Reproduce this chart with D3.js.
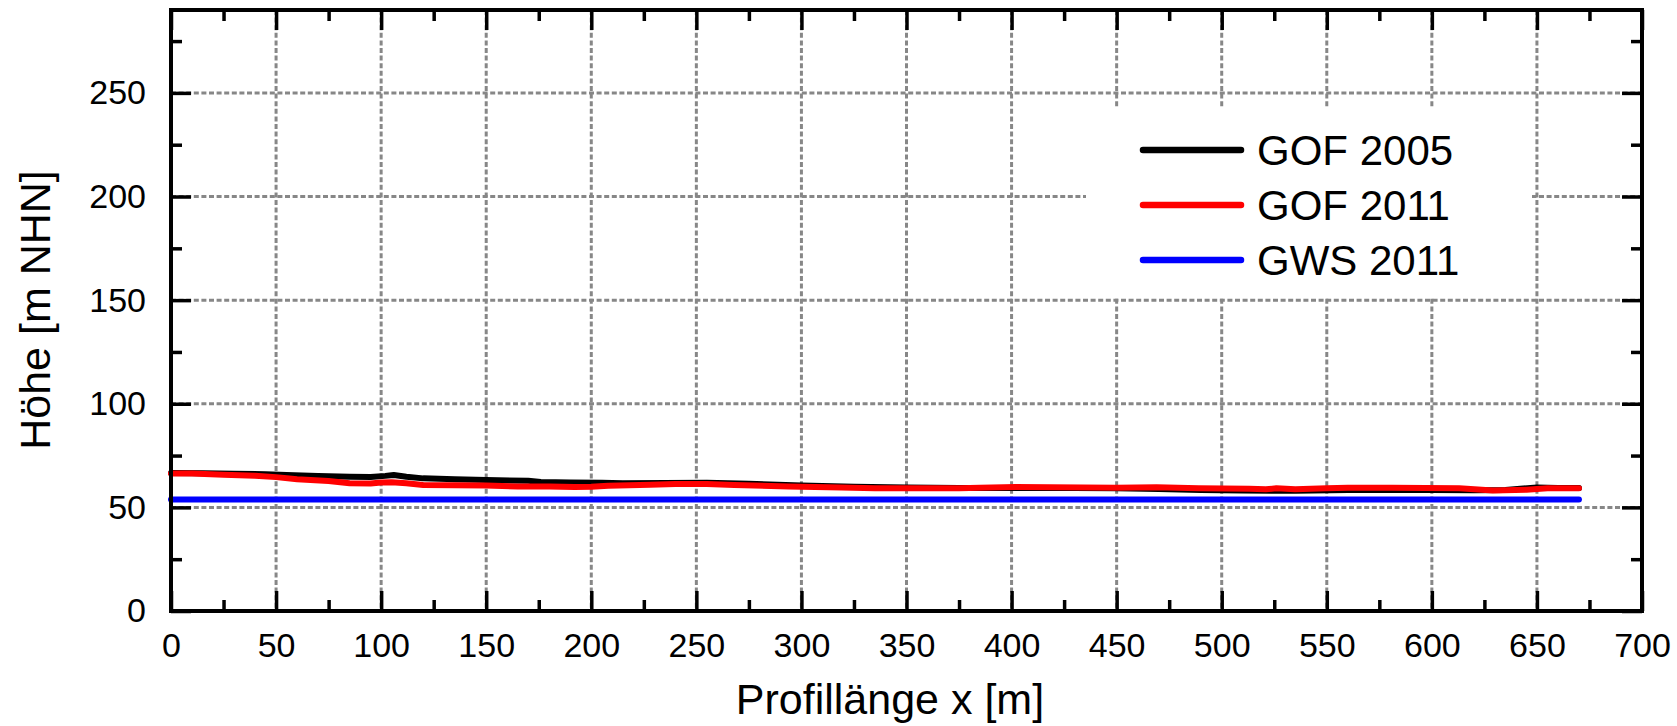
<!DOCTYPE html>
<html>
<head>
<meta charset="utf-8">
<script src="https://d3js.org/d3.v7.min.js"></script>
<style>
  body { margin: 0; background: #fff; }
  text { font-family: "Liberation Sans", Arial, sans-serif; fill: #000; }
</style>
</head>
<body>
<div class="chart"></div>
<script>
// data
var gof2005X = [0, 15, 30, 45, 55, 70, 85, 95, 102, 106, 112, 120, 135, 150, 170, 176, 190, 205, 215, 235, 255, 275, 300, 325, 350, 375, 400, 430, 450, 470, 490, 510, 535, 560, 600, 620, 635, 650, 660, 670];
var gof2005Y = [66.6, 66.5, 66.2, 66.0, 65.6, 65.2, 64.8, 64.7, 65.2, 65.6, 64.8, 64.0, 63.6, 63.2, 62.8, 62.3, 62.0, 61.9, 61.6, 61.8, 61.9, 61.4, 60.6, 60.0, 59.6, 59.4, 59.3, 59.4, 59.2, 58.9, 58.4, 58.1, 58.0, 58.4, 58.4, 58.3, 58.4, 59.6, 59.4, 59.3];

var gof2011X = [0, 10, 25, 40, 50, 60, 75, 85, 95, 100, 105, 112, 120, 150, 165, 180, 192, 200, 208, 228, 240, 255, 268, 294, 319, 335, 357, 375, 385, 402, 434, 450, 469, 489, 513, 521, 526, 535, 550, 560, 581, 613, 622, 629, 645, 655, 670];
var gof2011Y = [66.4, 66.4, 65.8, 65.3, 64.6, 63.6, 62.7, 61.6, 61.5, 62.0, 62.1, 61.6, 60.8, 60.6, 60.1, 60.1, 59.8, 59.9, 60.4, 60.9, 61.3, 61.3, 60.8, 60.1, 59.6, 59.2, 59.2, 59.2, 59.5, 59.8, 59.6, 59.5, 59.7, 59.2, 59.0, 58.7, 59.2, 58.7, 59.2, 59.5, 59.5, 59.2, 58.6, 58.2, 58.5, 59.2, 59.2];

var gws2011X = [0, 670];
var gws2011Y = [53.8, 53.8];

var seriesNames = ["GOF 2005", "GOF 2011", "GWS 2011"];
var seriesColors = ["#000000", "#ff0000", "#0000ff"];

var xTicks = [0, 50, 100, 150, 200, 250, 300, 350, 400, 450, 500, 550, 600, 650, 700];
var yTicks = [0, 50, 100, 150, 200, 250];

// svg params
var svgWidth = 1677;
var svgHeight = 726;
var margin = { top: 10, right: 35, bottom: 115, left: 171 };
var width = svgWidth - margin.left - margin.right;
var height = svgHeight - margin.top - margin.bottom;

var svg = d3.select(".chart")
  .append("svg")
  .attr("width", svgWidth)
  .attr("height", svgHeight);

svg.append("rect")
  .attr("width", svgWidth)
  .attr("height", svgHeight)
  .attr("fill", "#fff");

var chartGroup = svg.append("g")
  .attr("transform", `translate(${margin.left}, ${margin.top})`);

// scales
var xScale = d3.scaleLinear().domain([0, 700]).range([0, width]);
var yScale = d3.scaleLinear().domain([0, 290]).range([height, 0]);

// grid
var gridX = xTicks.filter(d => d > 0 && d < 700);
var gridY = yTicks.filter(d => d > 0);

chartGroup.selectAll(".gridx")
  .data(gridX)
  .enter()
  .append("line")
  .attr("x1", d => xScale(d))
  .attr("x2", d => xScale(d))
  .attr("y1", 0)
  .attr("y2", height)
  .attr("stroke", "#878787")
  .attr("stroke-width", 3)
  .attr("stroke-dasharray", "5,2.6");

chartGroup.selectAll(".gridy")
  .data(gridY)
  .enter()
  .append("line")
  .attr("x1", 0)
  .attr("x2", width)
  .attr("y1", d => yScale(d))
  .attr("y2", d => yScale(d))
  .attr("stroke", "#878787")
  .attr("stroke-width", 3)
  .attr("stroke-dasharray", "5,2.6");

// legend background hides the grid
var legendGroup = chartGroup.append("g");
legendGroup.append("rect")
  .attr("x", 1086 - margin.left)
  .attr("y", 108 - margin.top)
  .attr("width", 446)
  .attr("height", 190)
  .attr("fill", "#fff");

// lines
var seriesData = [
  d3.zip(gof2005X, gof2005Y),
  d3.zip(gof2011X, gof2011Y),
  d3.zip(gws2011X, gws2011Y)
];

var lineGen = d3.line()
  .x(d => xScale(d[0]))
  .y(d => yScale(d[1]));

seriesData.forEach(function(data, i) {
  chartGroup.append("path")
    .datum(data)
    .attr("d", lineGen)
    .attr("fill", "none")
    .attr("stroke", seriesColors[i])
    .attr("stroke-width", 6)
    .attr("stroke-linecap", "round")
    .attr("stroke-linejoin", "round");
});

// axes: major + minor ticks on all four sides, pointing inward
var minorX = d3.range(25, 700, 50);
var minorY = d3.range(25, 290, 50);

function styleAxis(g) {
  g.select(".domain").remove();
  g.selectAll(".tick line").attr("stroke", "#000").attr("stroke-width", 3.5);
  g.selectAll("text")
    .style("font-family", "'Liberation Sans', Arial, sans-serif")
    .style("font-size", "34px")
    .attr("fill", "#000");
}

chartGroup.append("g")
  .attr("transform", `translate(0, ${height})`)
  .call(d3.axisBottom(xScale).tickValues(xTicks).tickSize(-20).tickPadding(22))
  .call(styleAxis);

chartGroup.append("g")
  .attr("transform", `translate(0, ${height})`)
  .call(d3.axisBottom(xScale).tickValues(minorX).tickSize(-11).tickFormat(""))
  .call(styleAxis);

chartGroup.append("g")
  .call(d3.axisTop(xScale).tickValues(xTicks).tickSize(-20).tickFormat(""))
  .call(styleAxis);

chartGroup.append("g")
  .call(d3.axisTop(xScale).tickValues(minorX).tickSize(-11).tickFormat(""))
  .call(styleAxis);

chartGroup.append("g")
  .call(d3.axisLeft(yScale).tickValues(yTicks).tickSize(-20).tickPadding(25))
  .call(styleAxis);

chartGroup.append("g")
  .call(d3.axisLeft(yScale).tickValues(minorY).tickSize(-11).tickFormat(""))
  .call(styleAxis);

chartGroup.append("g")
  .attr("transform", `translate(${width}, 0)`)
  .call(d3.axisRight(yScale).tickValues(yTicks).tickSize(-20).tickFormat(""))
  .call(styleAxis);

chartGroup.append("g")
  .attr("transform", `translate(${width}, 0)`)
  .call(d3.axisRight(yScale).tickValues(minorY).tickSize(-11).tickFormat(""))
  .call(styleAxis);

// frame
chartGroup.append("rect")
  .attr("width", width)
  .attr("height", height)
  .attr("fill", "none")
  .attr("stroke", "#000")
  .attr("stroke-width", 4);

// legend entries
seriesNames.forEach(function(name, i) {
  var ly = 150 - margin.top + i * 55;
  legendGroup.append("line")
    .attr("x1", 1143 - margin.left)
    .attr("x2", 1241 - margin.left)
    .attr("y1", ly)
    .attr("y2", ly)
    .attr("stroke", seriesColors[i])
    .attr("stroke-width", 6.5)
    .attr("stroke-linecap", "round");
  legendGroup.append("text")
    .attr("x", 1257 - margin.left)
    .attr("y", ly)
    .attr("dy", "0.36em")
    .style("font-size", "42px")
    .text(name);
});

// axis labels
svg.append("text")
  .attr("x", 890)
  .attr("y", 714)
  .attr("text-anchor", "middle")
  .style("font-size", "43px")
  .text("Profillänge x [m]");

svg.append("text")
  .attr("transform", "translate(50, 310) rotate(-90)")
  .attr("text-anchor", "middle")
  .style("font-size", "43px")
  .text("Höhe [m NHN]");
</script>
</body>
</html>
